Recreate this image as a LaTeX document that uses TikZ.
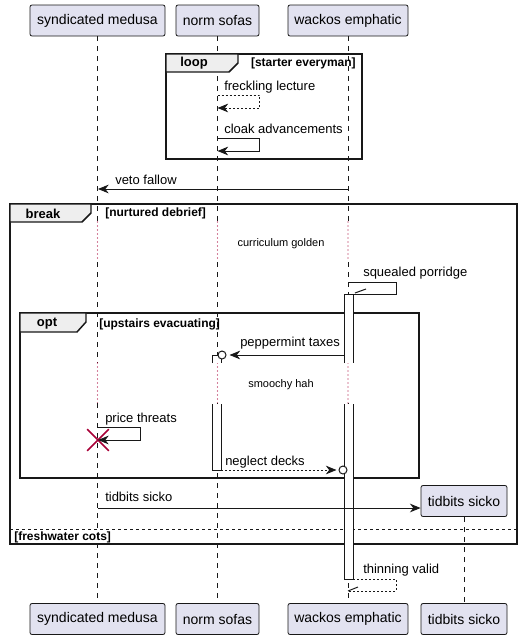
\documentclass[tikz,border=0pt]{standalone}
\usepackage{fontspec}
\setmainfont{Liberation Sans}
\usetikzlibrary{arrows.meta, shapes.misc}

\definecolor{partfill}{HTML}{E2E2F0}
\definecolor{tabfill}{HTML}{EEEEEE}
\definecolor{linecol}{HTML}{181818}
\definecolor{delaycol}{HTML}{A80036}

\begin{document}
\begin{tikzpicture}[x=0.75pt, y=-0.75pt,
        >={Stealth[length=8pt, width=6.5pt, inset=2.5pt]},
        every node/.style={inner sep=0pt},
        part/.style={draw=linecol, fill=partfill, rounded corners=1.5pt, line width=0.6pt,
            minimum height=23.25pt, font=\fontsize{10.5}{12}\selectfont},
        lbl/.style={anchor=base west, font=\fontsize{9.75}{11}\selectfont},
        note/.style={font=\fontsize{8.25}{10}\selectfont},
        life/.style={linecol, line width=0.5pt, dash pattern=on 3.75pt off 3.75pt},
        delay/.style={delaycol, line width=0.9pt, line cap=round, dash pattern=on 0pt off 3pt},
        msg/.style={linecol, line width=0.75pt},
        reply/.style={msg, dash pattern=on 1.5pt off 1.5pt},
        frame/.style={draw=linecol, line width=1.1pt},
        tab/.style={frame, fill=tabfill},
        ftitle/.style={font=\bfseries\fontsize{9.75}{11}\selectfont},
        guard/.style={font=\bfseries\fontsize{9}{10}\selectfont},
        bar/.style={draw=linecol, line width=0.75pt},
        lost/.style={circle, draw=linecol, line width=0.75pt, fill=white, minimum size=6pt}]

    \useasboundingbox (0,0) rectangle (525,640);

    % participants
    \node[part, minimum width=101.25pt] (medusaTop) at (97.5,20.5) {syndicated medusa};
    \node[part, minimum width=62.25pt] (sofasTop) at (217.5,20.5) {norm sofas};
    \node[part, minimum width=90pt] (wackosTop) at (348,20.5) {wackos emphatic};
    \node[part, minimum width=101.25pt] (medusaBot) at (97.5,619) {syndicated medusa};
    \node[part, minimum width=62.25pt] (sofasBot) at (217.5,619) {norm sofas};
    \node[part, minimum width=90pt] (wackosBot) at (348,619) {wackos emphatic};
    \node[part, minimum width=64.5pt] (tidbitsBot) at (464,619) {tidbits sicko};

    % lifelines, dotted where delayed
    \foreach \p in {medusa, sofas, wackos} {
        \draw[life] (\p Top.south) -- (\p Top.south |- 0,222);
        \draw[delay] (\p Top.south |- 0,222) -- (\p Top.south |- 0,262);
        \draw[life] (\p Top.south |- 0,262) -- (\p Top.south |- 0,363);
        \draw[delay] (\p Top.south |- 0,363) -- (\p Top.south |- 0,403);
        \draw[life] (\p Top.south |- 0,403) -- (\p Bot.north);
    }
    \draw[life] (464,517) -- (tidbitsBot.north);

    % delay texts
    \node[note] (delayOne) at (281,244) {curriculum golden};
    \node[note] (delayTwo) at (281,385) {smoochy hah};

    % loop frame
    \draw[frame] (166,54) rectangle (362,159);
    \draw[tab] (166,54) -- (238,54) -- (238,63) -- (229,72) -- (166,72) -- cycle;
    \node[ftitle] (loopTag) at (194,63) {loop};
    \node[guard, anchor=east] (loopGuard) at (356,63) {[starter everyman]};

    % break frame
    \draw[frame] (10,204) rectangle (517,544);
    \draw[tab] (10,204) -- (91,204) -- (91,213) -- (82,222) -- (10,222) -- cycle;
    \node[ftitle] (breakTag) at (43,214) {break};
    \node[guard, anchor=west] (breakGuard) at (105,213) {[nurtured debrief]};
    \draw[msg, dash pattern=on 2.25pt off 2.25pt] (10,529) -- (517,529);
    \node[guard, anchor=west] (elseGuard) at (14,537) {[freshwater cots]};

    % opt frame
    \draw[frame] (20,313) rectangle (419,478);
    \draw[tab] (20,313) -- (86,313) -- (86,322) -- (77,332) -- (20,332) -- cycle;
    \node[ftitle] (optTag) at (47,324) {opt};
    \node[guard, anchor=west] (optGuard) at (99,324) {[upstairs evacuating]};

    % activations
    \fill[white] (344,294) rectangle (353,363);
    \draw[bar] (344,363) |- (353,294) -- (353,363);
    \fill[white] (344,404) rectangle (353,579);
    \draw[bar] (344,404) |- (353,579) -- (353,404);
    \fill[white] (212,355) rectangle (221,363);
    \draw[bar] (212,363) |- (221,355) -- (221,363);
    \fill[white] (212,404) rectangle (221,470);
    \draw[bar] (212,404) |- (221,470) -- (221,404);

    % created participant
    \node[part, minimum width=64.5pt] (tidbits) at (464,501) {tidbits sicko};

    % freckling lecture
    \coordinate (freckA) at (217.5,95);
    \coordinate (freckB) at (217.5,108);
    \draw[reply, ->] (freckA) -- ++(42,0) |- (freckB);
    \node[lbl] (freckLbl) at (224,90) {freckling lecture};

    % cloak advancements
    \coordinate (cloakA) at (217.5,138);
    \coordinate (cloakB) at (217.5,151);
    \draw[msg, ->] (cloakA) -- ++(42,0) |- (cloakB);
    \node[lbl] (cloakLbl) at (224,133) {cloak advancements};

    % veto fallow
    \coordinate (vetoS) at (348,189);
    \coordinate (vetoE) at (98,189);
    \draw[msg, ->] (vetoS) -- (vetoE);
    \node[lbl] (vetoLbl) at (115,184) {veto fallow};

    % squealed porridge
    \coordinate (squealS) at (348,282);
    \coordinate (squealE) at (353,294);
    \draw[msg] (squealS) -- ++(48,0) |- (squealE);
    \draw[msg] (squealE) ++(2,-1) -- ++(11,-4);
    \node[lbl] (squealLbl) at (363,276) {squealed porridge};

    % peppermint taxes
    \coordinate (pepS) at (344,355);
    \node[lost] (pepEnd) at (222,355) {};
    \draw[msg, ->, shorten >=2.25pt] (pepS) -- (pepEnd);
    \node[lbl] (pepLbl) at (240,346) {peppermint taxes};

    % price threats
    \coordinate (priceA) at (98,427);
    \coordinate (priceB) at (98,440);
    \node[cross out, draw=delaycol, line width=1.2pt, minimum size=15pt] (medusaEnd) at (98,440) {};
    \draw[msg, ->] (priceA) -- ++(42,0) |- (priceB);
    \node[lbl] (priceLbl) at (105,422) {price threats};

    % neglect decks
    \coordinate (neglS) at (221,470);
    \node[lost] (neglEnd) at (343,470) {};
    \draw[reply, ->, shorten >=1.5pt] (neglS) -- (neglEnd);
    \node[lbl] (neglLbl) at (225,465) {neglect decks};

    % tidbits sicko
    \coordinate (tidS) at (98,508);
    \draw[msg, ->] (tidS) -- (tidbits.west |- tidS);
    \node[lbl] (tidLbl) at (105,501) {tidbits sicko};

    % thinning valid
    \coordinate (thinS) at (353,579);
    \coordinate (thinE) at (348,591);
    \draw[reply] (thinS) -- ++(43,0) |- (thinE);
    \draw[msg] (thinE) -- ++(10,-4);
    \node[lbl] (thinLbl) at (363,573) {thinning valid};

\end{tikzpicture}
\end{document}
